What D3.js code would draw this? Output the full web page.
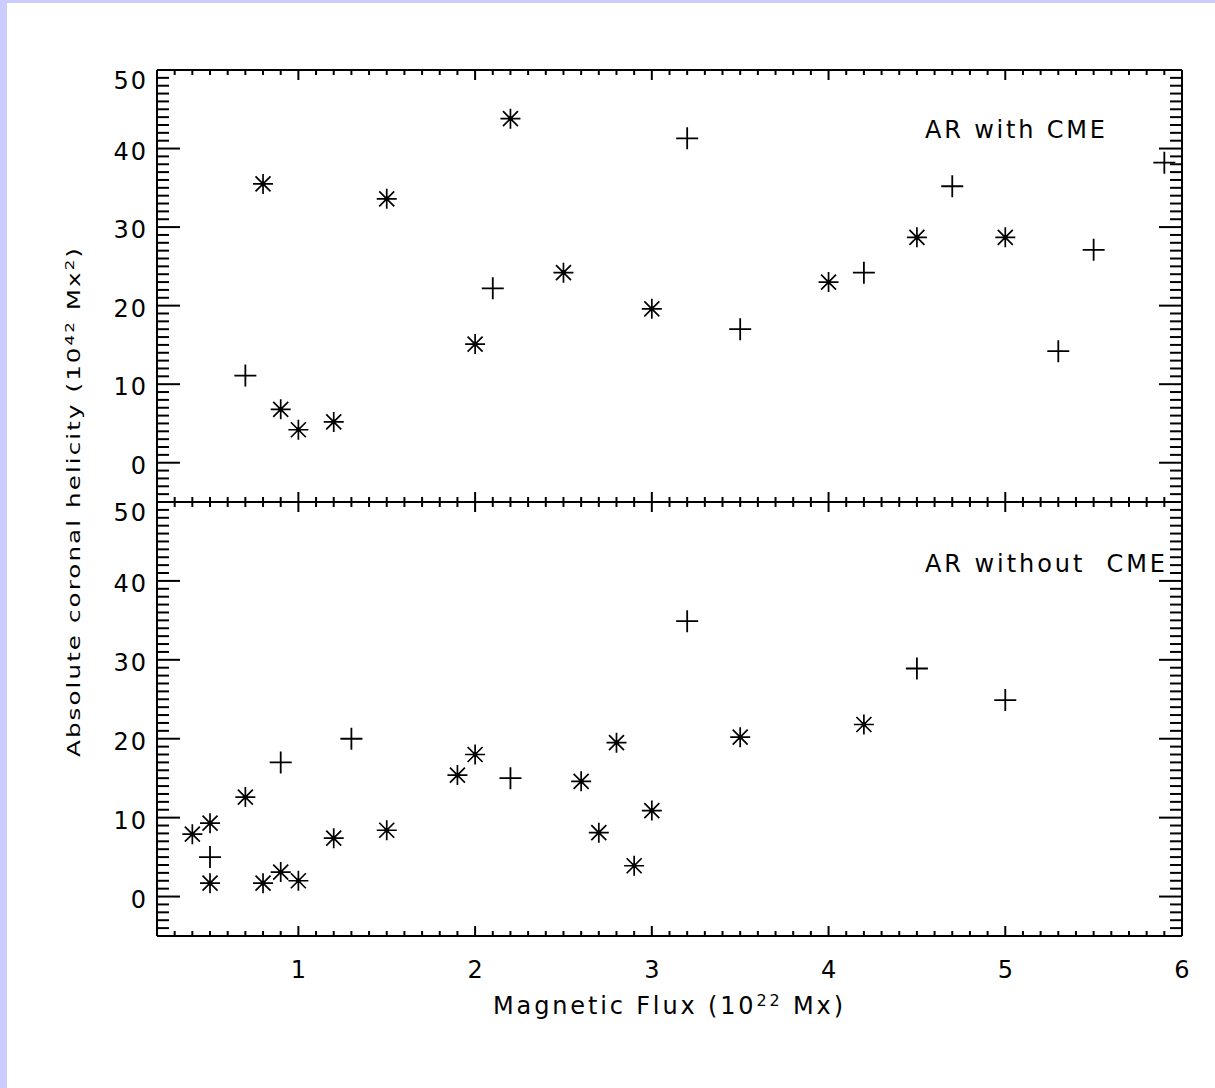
<!DOCTYPE html>
<html>
<head>
<meta charset="utf-8">
<script src="https://cdn.jsdelivr.net/npm/d3@7"></script>
<style>
	body { margin: 0; background: #ffffff; }
	text { font-family: "DejaVu Sans", sans-serif; fill: #000000; }
</style>
</head>
<body>
<div id="chart"></div>
<script>

///////////////////////////////////////////////////////////////////////////
///////////////////////////////// Data ///////////////////////////////////
///////////////////////////////////////////////////////////////////////////

//Active regions with a CME (top panel)
var withCmeStarFlux = [0.8, 0.9, 1.0, 1.2, 1.5, 2.0, 2.2, 2.5, 3.0, 4.0, 4.5, 5.0];
var withCmeStarHel  = [35.5, 6.8, 4.2, 5.2, 33.6, 15.1, 43.8, 24.2, 19.6, 23.0, 28.7, 28.7];
var withCmePlusFlux = [0.7, 2.1, 3.2, 3.5, 4.2, 4.7, 5.3, 5.5, 5.9];
var withCmePlusHel  = [11.1, 22.2, 41.3, 17.0, 24.2, 35.2, 14.2, 27.1, 38.2];

//Active regions without a CME (bottom panel)
var noCmeStarFlux = [0.4, 0.5, 0.5, 0.7, 0.8, 0.9, 1.0, 1.2, 1.5, 1.9, 2.0, 2.6, 2.7, 2.8, 2.9, 3.0, 3.5, 4.2];
var noCmeStarHel  = [7.9, 9.3, 1.7, 12.6, 1.7, 3.1, 2.0, 7.4, 8.4, 15.4, 18.0, 14.6, 8.1, 19.5, 3.9, 10.9, 20.2, 21.8];
var noCmePlusFlux = [0.5, 0.9, 1.3, 2.2, 3.2, 4.5, 5.0];
var noCmePlusHel  = [5.0, 17.0, 20.0, 15.0, 34.9, 28.9, 24.9];

//Axes
var fluxDomain = [0.2, 6];
var helDomain = [-5, 50];
var xTickValues = [1, 2, 3, 4, 5, 6];
var yTickValues = [0, 10, 20, 30, 40, 50];

///////////////////////////////////////////////////////////////////////////
//////////////////// Set up and initiate svg containers ///////////////////
///////////////////////////////////////////////////////////////////////////

var totalWidth = 1215,
	totalHeight = 1088;

var margin = { top: 70, left: 157 };
var width = 1025,
	panelTop = 432,
	panelBottom = 434;

var svg = d3.select("#chart")
	.append("svg")
	.attr("width", totalWidth)
	.attr("height", totalHeight)
	.style("display", "block");

//Lavender page edge
svg.append("rect")
	.attr("width", totalWidth)
	.attr("height", totalHeight)
	.style("fill", "#ccccff");
svg.append("rect")
	.attr("x", 7)
	.attr("y", 3)
	.attr("width", totalWidth - 7)
	.attr("height", totalHeight - 3)
	.style("fill", "#ffffff");

var chart = svg.append("g")
	.attr("transform", "translate(" + margin.left + "," + margin.top + ")");

///////////////////////////////////////////////////////////////////////////
//////////////////////////////// Scales ///////////////////////////////////
///////////////////////////////////////////////////////////////////////////

var xScale = d3.scaleLinear().domain(fluxDomain).range([0, width]);
var yTop = d3.scaleLinear().domain(helDomain).range([panelTop, 0]);
var yBottom = d3.scaleLinear().domain(helDomain).range([panelTop + panelBottom, panelTop]);

var xMinor = d3.range(2, 61).map(function(d) { return d / 10; })
	.filter(function(d) { return Math.abs(d - Math.round(d)) > 1e-6; });
var yMinor = d3.range(helDomain[0], helDomain[1] + 1)
	.filter(function(d) { return d % 10 !== 0; });

///////////////////////////////////////////////////////////////////////////
/////////////////////////////// Draw axes /////////////////////////////////
///////////////////////////////////////////////////////////////////////////

function styleAxis(g) {
	g.selectAll("path, line").style("stroke", "#000").style("stroke-width", 2);
	g.selectAll("text").attr("font-size", 24).attr("font-family", "DejaVu Sans, sans-serif");
}

function addAxis(axis, tx, ty) {
	var g = chart.append("g")
		.attr("transform", "translate(" + tx + "," + ty + ")")
		.call(axis.offset(0));
	styleAxis(g);
	return g;
}

function drawPanel(y, y0, y1) {
	//Left axis, ticks pointing inward
	var left = addAxis(d3.axisLeft(y).tickValues(yTickValues).tickSize(-23).tickSizeOuter(0)
		.tickPadding(9).tickFormat(d3.format("d")), 0, 0);
	//top label sits just under its tick, the others a bit below centre
	left.selectAll("text")
		.style("letter-spacing", "2px")
		.attr("dy", function(d) { return d === helDomain[1] ? "0.78em" : "0.46em"; });
	addAxis(d3.axisLeft(y).tickValues(yMinor).tickSize(-12).tickSizeOuter(0).tickFormat(""), 0, 0);

	//Right axis
	addAxis(d3.axisRight(y).tickValues(yTickValues).tickSize(-23).tickSizeOuter(0).tickFormat(""), width, 0);
	addAxis(d3.axisRight(y).tickValues(yMinor).tickSize(-12).tickSizeOuter(0).tickFormat(""), width, 0);

	//Top and bottom edges
	addAxis(d3.axisTop(xScale).tickValues(xTickValues).tickSize(-10).tickSizeOuter(0).tickFormat(""), 0, y1);
	addAxis(d3.axisTop(xScale).tickValues(xMinor).tickSize(-5).tickSizeOuter(0).tickFormat(""), 0, y1);
	addAxis(d3.axisBottom(xScale).tickValues(xMinor).tickSize(-5).tickSizeOuter(0).tickFormat(""), 0, y0);
	return addAxis(d3.axisBottom(xScale).tickValues(xTickValues).tickSize(-10).tickSizeOuter(0)
		.tickPadding(25).tickFormat(d3.format("d")), 0, y0);
}

var topBottomAxis = drawPanel(yTop, panelTop, 0);
topBottomAxis.selectAll("text").remove();
drawPanel(yBottom, panelTop + panelBottom, panelTop);

///////////////////////////////////////////////////////////////////////////
//////////////////////////////// Markers //////////////////////////////////
///////////////////////////////////////////////////////////////////////////

var starPath = "M0,-10V10M-10,0H10M-7.5,-7.5L7.5,7.5M-7.5,7.5L7.5,-7.5";
var plusPath = "M0,-11V11M-11,0H11";

function drawStars(xs, ys, y) {
	var stars = chart.append("g").selectAll(".star")
		.data(d3.zip(xs, ys))
		.enter().append("g")
		.attr("class", "star")
		.attr("transform", function(d) { return "translate(" + xScale(d[0]) + "," + y(d[1]) + ")"; });
	stars.append("path")
		.attr("d", starPath)
		.style("fill", "none")
		.style("stroke", "#000")
		.style("stroke-width", 1.7);
	stars.append("circle")
		.attr("r", 2.4)
		.style("fill", "#000");
}

function drawPlus(xs, ys, y) {
	chart.append("g").selectAll(".plus")
		.data(d3.zip(xs, ys))
		.enter().append("path")
		.attr("class", "plus")
		.attr("transform", function(d) { return "translate(" + xScale(d[0]) + "," + y(d[1]) + ")"; })
		.attr("d", plusPath)
		.style("fill", "none")
		.style("stroke", "#000")
		.style("stroke-width", 1.8);
}

drawStars(withCmeStarFlux, withCmeStarHel, yTop);
drawPlus(withCmePlusFlux, withCmePlusHel, yTop);
drawStars(noCmeStarFlux, noCmeStarHel, yBottom);
drawPlus(noCmePlusFlux, noCmePlusHel, yBottom);

///////////////////////////////////////////////////////////////////////////
///////////////////////////////// Texts ///////////////////////////////////
///////////////////////////////////////////////////////////////////////////

svg.append("text")
	.attr("x", 925)
	.attr("y", 138)
	.attr("font-size", 24)
	.attr("textLength", 180)
	.attr("lengthAdjust", "spacing")
	.style("white-space", "pre")
	.text("AR with CME");

svg.append("text")
	.attr("x", 925)
	.attr("y", 572)
	.attr("font-size", 24)
	.attr("textLength", 240)
	.attr("lengthAdjust", "spacing")
	.style("white-space", "pre")
	.text("AR without  CME");

//x axis title
var xTitle = svg.append("text")
	.attr("x", 493)
	.attr("y", 1014)
	.attr("font-size", 24)
	.attr("textLength", 350)
	.attr("lengthAdjust", "spacing");
xTitle.append("tspan").text("Magnetic Flux (10");
xTitle.append("tspan").attr("font-size", 16).attr("dy", -8).text("22");
xTitle.append("tspan").attr("dy", 8).text(" Mx)");

//y axis title, glyphs stretched along the text like the original
var yStretch = 1.45;
var yTitle = svg.append("text")
	.attr("transform", "translate(80,757) rotate(-90) scale(" + yStretch + ",1)")
	.attr("font-size", 17)
	.attr("textLength", 509 / yStretch)
	.attr("lengthAdjust", "spacing");
yTitle.append("tspan").text("Absolute coronal helicity (10");
yTitle.append("tspan").attr("font-size", 11.5).attr("dy", -6).text("42");
yTitle.append("tspan").attr("dy", 6).text(" Mx");
yTitle.append("tspan").attr("font-size", 11.5).attr("dy", -6).text("2");
yTitle.append("tspan").attr("dy", 6).text(")");

</script>
</body>
</html>
